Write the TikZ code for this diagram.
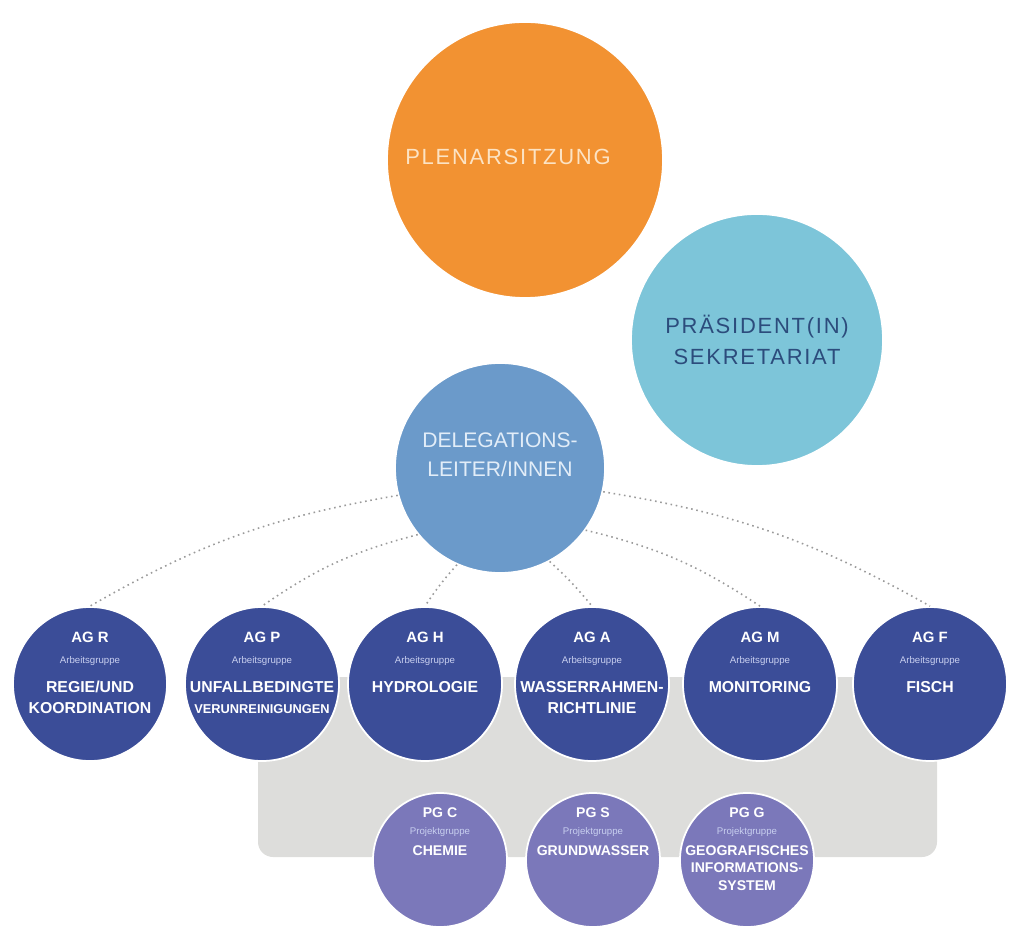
\documentclass[tikz,border=0pt]{standalone}
\usepackage{fontspec}
\setmainfont{Liberation Sans}
\newfontfamily\spacedfont[LetterSpace = 8]{Liberation Sans}

\definecolor{plenum}{HTML}{F29232}
\definecolor{plenumtext}{HTML}{FCE3C4}
\definecolor{praesid}{HTML}{7DC5D9}
\definecolor{praesidtext}{HTML}{2C4C7C}
\definecolor{deleg}{HTML}{6B9ACA}
\definecolor{delegtext}{HTML}{E2EDF8}
\definecolor{agblue}{HTML}{3B4D98}
\definecolor{pgviolet}{HTML}{7B78BA}
\definecolor{subtext}{HTML}{C8CFEF}
\definecolor{backdrop}{HTML}{DDDDDB}
\definecolor{linkgrey}{HTML}{9A9A9A}

\begin{document}
\begin{tikzpicture}[
	circ/.style = {circle, draw = white, line width = 1pt, inner sep = 0pt},
	ag/.style = {circ, fill = agblue, minimum size = 3.08cm},
	pg/.style = {circ, fill = pgviolet, minimum size = 2.68cm},
	agtext/.style = {anchor = north, align = center, inner sep = 0pt, text = white,
		font = \fontsize{9}{12}\selectfont\bfseries},
	pgtext/.style = {anchor = north, align = center, inner sep = 0pt, text = white,
		font = \fontsize{8}{10}\selectfont\bfseries},
	link/.style = {draw = linkgrey, line width = 0.9pt, dash pattern = on 0.9pt off 2.1pt}
]

	\useasboundingbox (0, 0) rectangle (20.42, 18.56);

	% Grey backdrop behind the groups
	
	\fill [backdrop, rounded corners = 0.3cm] (5.16, 1.42) rectangle (18.74, 5.02);

	% Top circles
	
	\node [circ, fill = plenum, minimum size = 5.52cm] (plenum) at (10.5, 15.36) {};
	\node [text = plenumtext, font = \fontsize{12.5}{18}\spacedfont]
		(plenum-text) at ([xshift = -0.34cm, yshift = 0.06cm] plenum.center) {PLENARSITZUNG};
	\node [circ, fill = praesid, minimum size = 5.04cm, text = praesidtext, align = center,
		font = \fontsize{12.5}{18}\spacedfont] (praes) at (15.14, 11.76) {PRÄSIDENT(IN)\\SEKRETARIAT};
	\node [circ, fill = deleg, minimum size = 4.2cm] (deleg) at (10.0, 9.2) {};
	\node [align = center, text = delegtext, font = \fontsize{12}{16.5}\selectfont]
		(deleg-text) at ([yshift = 0.26cm] deleg.center) {DELEGATIONS-\\LEITER/INNEN};

	% Arbeitsgruppen
	
	\node [ag] (agR) at (1.8, 4.88) {};
	\node [ag] (agP) at (5.24, 4.88) {};
	\node [ag] (agH) at (8.5, 4.88) {};
	\node [ag] (agA) at (11.84, 4.88) {};
	\node [ag] (agM) at (15.2, 4.88) {};
	\node [ag] (agF) at (18.6, 4.88) {};

	\node [agtext] (agR-text) at ([yshift = -0.52cm] agR.north)
		{\fontsize{8.5}{12}\selectfont AG R\\\fontsize{5.5}{12}\selectfont\mdseries\color{subtext}Arbeitsgruppe\\[4pt]
		REGIE/UND\\KOORDINATION};
	\node [agtext] (agP-text) at ([yshift = -0.52cm] agP.north)
		{\fontsize{8.5}{12}\selectfont AG P\\\fontsize{5.5}{12}\selectfont\mdseries\color{subtext}Arbeitsgruppe\\[4pt]
		UNFALLBEDINGTE\\\fontsize{7.3}{12}\selectfont VERUNREINIGUNGEN};
	\node [agtext] (agH-text) at ([yshift = -0.52cm] agH.north)
		{\fontsize{8.5}{12}\selectfont AG H\\\fontsize{5.5}{12}\selectfont\mdseries\color{subtext}Arbeitsgruppe\\[4pt]
		HYDROLOGIE};
	\node [agtext] (agA-text) at ([yshift = -0.52cm] agA.north)
		{\fontsize{8.5}{12}\selectfont AG A\\\fontsize{5.5}{12}\selectfont\mdseries\color{subtext}Arbeitsgruppe\\[4pt]
		WASSERRAHMEN-\\RICHTLINIE};
	\node [agtext] (agM-text) at ([yshift = -0.52cm] agM.north)
		{\fontsize{8.5}{12}\selectfont AG M\\\fontsize{5.5}{12}\selectfont\mdseries\color{subtext}Arbeitsgruppe\\[4pt]
		MONITORING};
	\node [agtext] (agF-text) at ([yshift = -0.52cm] agF.north)
		{\fontsize{8.5}{12}\selectfont AG F\\\fontsize{5.5}{12}\selectfont\mdseries\color{subtext}Arbeitsgruppe\\[4pt]
		FISCH};

	% Projektgruppen
	
	\node [pg] (pgC) at (8.8, 1.36) {};
	\node [pg] (pgS) at (11.86, 1.36) {};
	\node [pg] (pgG) at (14.94, 1.36) {};

	\node [pgtext] (pgC-text) at ([yshift = -0.3cm] pgC.north)
		{PG C\\\fontsize{5.5}{10}\selectfont\mdseries\color{subtext}Projektgruppe\\[1.5pt]
		CHEMIE};
	\node [pgtext] (pgS-text) at ([yshift = -0.3cm] pgS.north)
		{PG S\\\fontsize{5.5}{10}\selectfont\mdseries\color{subtext}Projektgruppe\\[1.5pt]
		GRUNDWASSER};
	\node [pgtext] (pgG-text) at ([yshift = -0.3cm] pgG.north)
		{PG G\\\fontsize{5.5}{10}\selectfont\mdseries\color{subtext}Projektgruppe\\[1.5pt]
		GEOGRAFISCHES\\INFORMATIONS-\\SYSTEM};

	% Dotted links down to the working groups
	
	\draw [link] (deleg.195) to [bend right = 10] (agR.north);
	\draw [link] (deleg.219) to [bend right = 10] (agP.north);
	\draw [link] (deleg.246) to [bend right = 4] (agH.north);
	\draw [link] (deleg.298) to [bend left = 4] (agA.north);
	\draw [link] (deleg.324) to [bend left = 10] (agM.north);
	\draw [link] (deleg.347) to [bend left = 10] (agF.north);

\end{tikzpicture}
\end{document}
